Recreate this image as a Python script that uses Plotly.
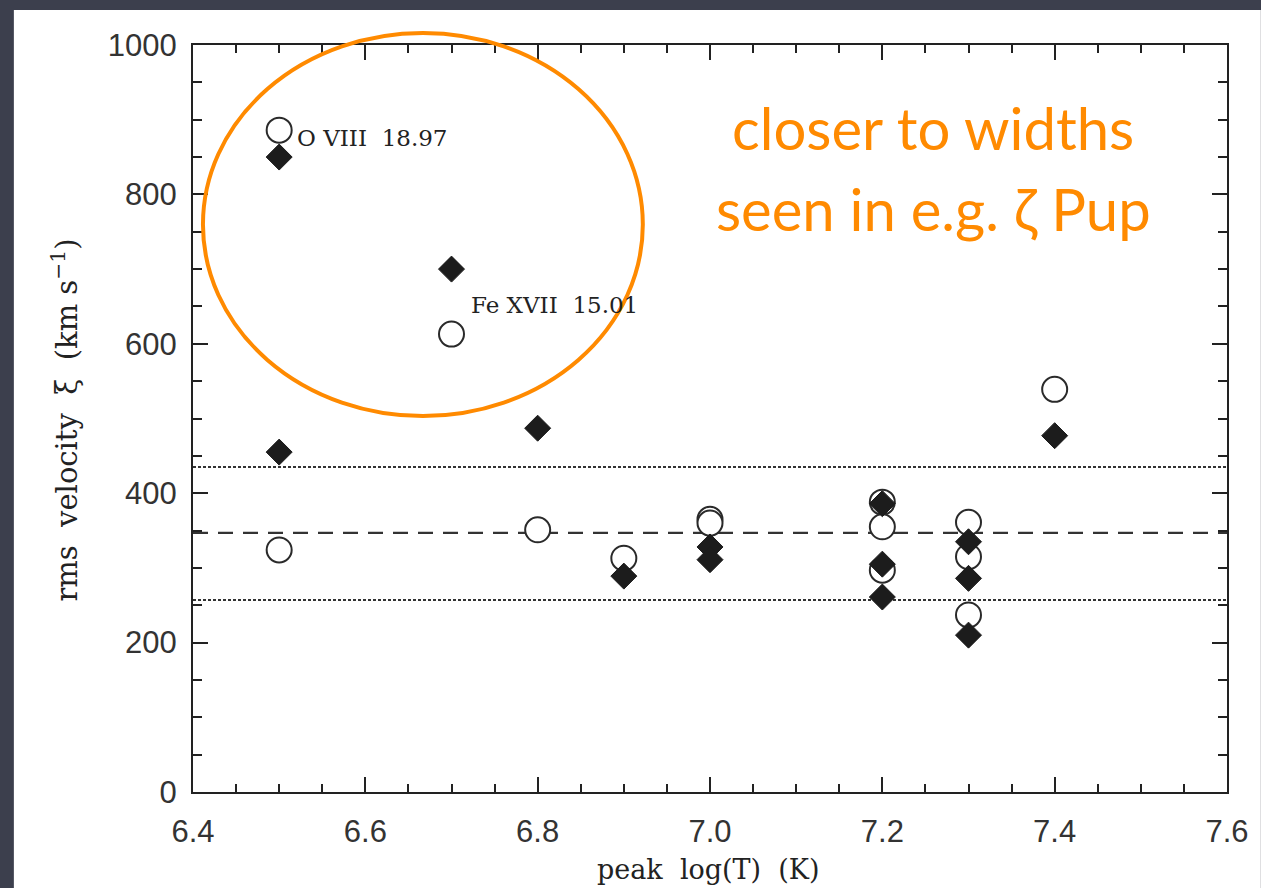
import plotly.graph_objects as go

# ---- data ----
circle_logT = [6.5, 6.5, 6.7, 6.8, 6.9, 7.0, 7.0, 7.2, 7.2, 7.2, 7.3, 7.3, 7.3, 7.4]
circle_xi = [886, 324, 613, 351, 313, 365, 360, 388, 355, 297, 361, 315, 237, 539]
diamond_logT = [6.5, 6.5, 6.7, 6.8, 6.9, 7.0, 7.0, 7.2, 7.2, 7.2, 7.3, 7.3, 7.3, 7.4]
diamond_xi = [850, 455, 700, 487, 289, 328, 311, 386, 305, 261, 335, 286, 210, 477]
mean_xi = 347
band_xi = [435, 257]
line_labels = ["O VIII\u00a0\u00a018.97", "Fe XVII\u00a0\u00a015.01"]
line_label_pos = [(6.518, 875), (6.72, 652)]
x_ticks = [6.4, 6.6, 6.8, 7.0, 7.2, 7.4, 7.6]
y_ticks = [0, 200, 400, 600, 800, 1000]

W, H = 1261, 888
L, R, T, B = 193, 29, 45, 96
pw, ph = W - L - R, H - T - B


def px(xp):
    return (xp - L) / pw


def py(yp):
    return (H - B - yp) / ph


fig = go.Figure()
fig.add_trace(go.Scatter(
    x=circle_logT, y=circle_xi, mode="markers",
    marker=dict(symbol="circle", size=25, color="white",
                line=dict(color="#2a2a2a", width=2)),
    showlegend=False, cliponaxis=False))
fig.add_trace(go.Scatter(
    x=diamond_logT, y=diamond_xi, mode="markers",
    marker=dict(symbol="diamond", size=20, color="#1c1c1c",
                line=dict(color="#1c1c1c", width=1)),
    showlegend=False, cliponaxis=False))

shapes = [
    dict(type="rect", xref="paper", yref="paper", x0=px(13), x1=px(W + 5),
         y0=py(H + 5), y1=py(10), fillcolor="white", line=dict(width=0), layer="below"),
    dict(type="line", xref="paper", yref="y", x0=0, x1=1, y0=mean_xi, y1=mean_xi,
         line=dict(color="#333333", width=2.2, dash="15px,10px"), layer="below"),
]
for b in band_xi:
    shapes.append(dict(type="line", xref="paper", yref="y", x0=0, x1=1, y0=b, y1=b,
                       line=dict(color="#333333", width=2, dash="3px,2px"), layer="below"))
shapes.append(dict(type="circle", xref="paper", yref="paper",
                   x0=px(203), x1=px(645), y0=py(416), y1=py(33),
                   line=dict(color="#ff8a00", width=4)))

serif = dict(family="DejaVu Serif", color="#222222")
annotations = []
for txt, (lx, ly) in zip(line_labels, line_label_pos):
    annotations.append(dict(x=lx, y=ly, xref="x", yref="y", text=txt, showarrow=False,
                            xanchor="left", yanchor="middle", font=dict(size=23, **serif)))
annotations += [
    dict(x=px(937), y=py(127), xref="paper", yref="paper", text="closer to widths",
         showarrow=False, xanchor="center", yanchor="middle",
         font=dict(family="Lato", size=58, color="#ff8a00")),
    dict(x=px(937), y=py(208), xref="paper", yref="paper", text="seen in e.g. ζ Pup",
         showarrow=False, xanchor="center", yanchor="middle",
         font=dict(family="Lato", size=58, color="#ff8a00")),
    dict(x=px(711), y=py(869), xref="paper", yref="paper",
         text="peak\u00a0\u00a0log(T)\u00a0\u00a0(K)",
         showarrow=False, xanchor="center", yanchor="middle", font=dict(size=27, **serif)),
    dict(x=px(64), y=py(420), xref="paper", yref="paper",
         text="rms\u00a0\u00a0velocity\u00a0\u00a0ξ\u00a0\u00a0(km\u00a0s<sup>−1</sup>)", textangle=-90,
         showarrow=False, xanchor="center", yanchor="middle", font=dict(size=29, **serif)),
]

axis_common = dict(showline=True, linecolor="#222222", linewidth=2, mirror="allticks",
                   ticks="inside", ticklen=15, tickwidth=2, tickcolor="#222222",
                   showgrid=False, zeroline=False,
                   tickfont=dict(family="Liberation Sans", size=31, color="#333333"))

fig.update_layout(
    width=W, height=H,
    margin=dict(l=L, r=R, t=T, b=B),
    paper_bgcolor="#3c3f4d", plot_bgcolor="rgba(0,0,0,0)",
    shapes=shapes, annotations=annotations,
    xaxis=dict(range=[6.4, 7.6], tickvals=x_ticks, ticktext=[f"{v:.1f}" for v in x_ticks],
               ticklabelstandoff=11,
               minor=dict(dtick=0.05, tick0=6.4, ticks="inside", ticklen=8, tickwidth=1.5,
                          tickcolor="#222222", showgrid=False),
               **axis_common),
    yaxis=dict(range=[0, 1000], tickvals=y_ticks, ticklabelstandoff=8,
               minor=dict(dtick=50, tick0=0, ticks="inside", ticklen=9, tickwidth=1.5,
                          tickcolor="#222222", showgrid=False),
               **axis_common),
)

fig.write_html("out.html")
